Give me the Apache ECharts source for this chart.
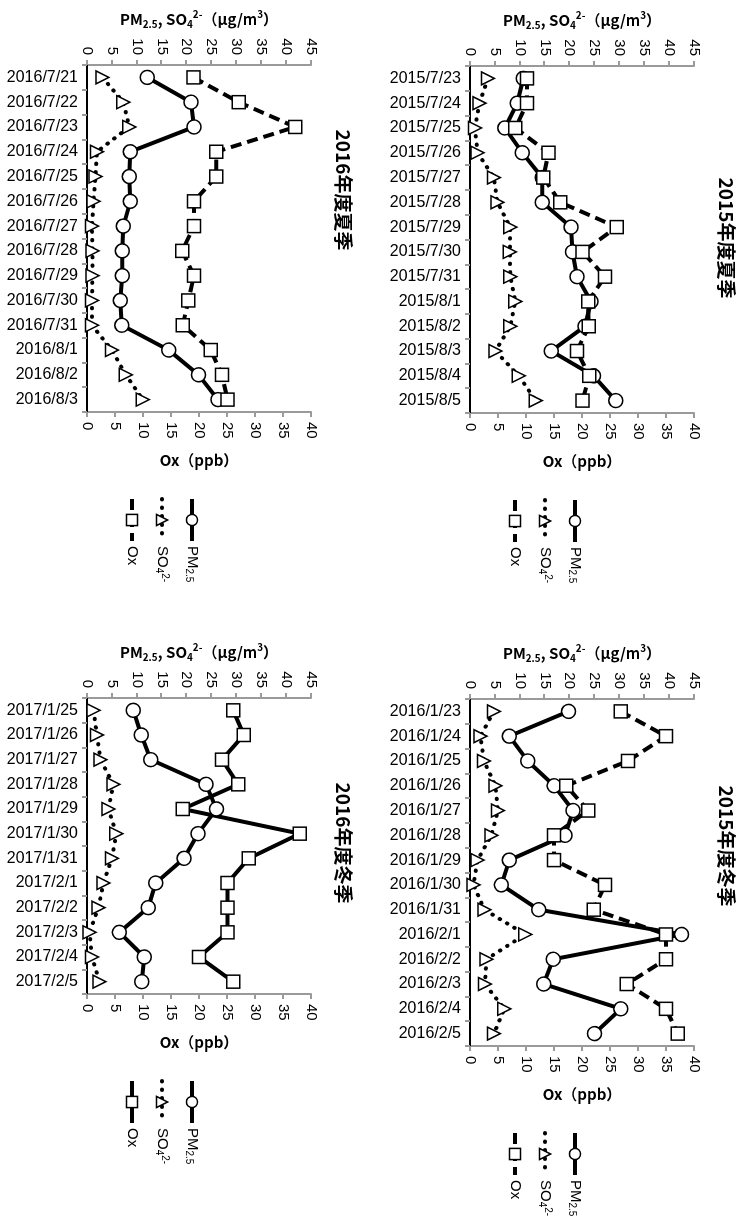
<!DOCTYPE html>
<html><head><meta charset="utf-8">
<script src="https://cdn.jsdelivr.net/npm/echarts@6/dist/echarts.min.js"></script>
<style>
html,body{margin:0;padding:0;background:#fff;overflow:hidden;width:749px;height:1232px;}
#wrap{position:absolute;left:0;top:0;width:1232px;height:749px;transform-origin:0 0;transform:translate(749px,0) rotate(90deg);background:#fff;}
</style></head><body>
<div id="wrap"></div>
<script>
// ---------- data ----------
const datesSummer2015 = ['2015/7/23','2015/7/24','2015/7/25','2015/7/26','2015/7/27','2015/7/28','2015/7/29','2015/7/30','2015/7/31','2015/8/1','2015/8/2','2015/8/3','2015/8/4','2015/8/5'];
const pmSummer2015  = [10.7, 9.5, 7.0, 10.5, 14.5, 14.5, 20.3, 20.6, 21.5, 24.3, 23.1, 16.3, 24.8, 29.3];
const so4Summer2015 = [3.6, 1.9, 1.0, 1.5, 4.8, 5.5, 8.1, 8.0, 8.1, 9.1, 8.1, 5.1, 9.8, 13.2];
const oxSummer2015  = [10.2, 10.2, 8.1, 14.0, 13.1, 16.1, 26.2, 20.1, 24.1, 21.1, 21.2, 19.1, 21.3, 20.1];

const datesSummer2016 = ['2016/7/21','2016/7/22','2016/7/23','2016/7/24','2016/7/25','2016/7/26','2016/7/27','2016/7/28','2016/7/29','2016/7/30','2016/7/31','2016/8/1','2016/8/2','2016/8/3'];
const pmSummer2016  = [12.1, 20.9, 21.5, 8.7, 8.5, 8.7, 7.3, 7.1, 7.1, 6.7, 7.0, 16.4, 22.4, 26.3];
const so4Summer2016 = [3.1, 7.3, 8.5, 2.0, 1.7, 1.3, 1.0, 1.1, 1.1, 1.0, 1.0, 5.0, 7.8, 11.2];
const oxSummer2016  = [19.0, 27.1, 37.2, 23.1, 23.1, 19.1, 19.1, 17.0, 19.1, 18.1, 17.1, 22.1, 24.1, 25.1];

const datesWinter2015 = ['2016/1/23','2016/1/24','2016/1/25','2016/1/26','2016/1/27','2016/1/28','2016/1/29','2016/1/30','2016/1/31','2016/2/1','2016/2/2','2016/2/3','2016/2/4','2016/2/5'];
const pmWinter2015  = [19.8, 7.9, 11.6, 16.9, 20.7, 19.1, 7.9, 6.3, 13.8, 42.5, 16.7, 14.8, 30.3, 25.0];
const so4Winter2015 = [4.8, 2.1, 2.8, 5.1, 5.6, 4.3, 1.5, 0.7, 2.9, 11.1, 3.3, 3.0, 6.9, 4.8];
const oxWinter2015  = [26.9, 35.0, 28.2, 17.2, 21.1, 15.0, 15.0, 24.1, 22.1, 35.0, 35.0, 28.0, 35.0, 37.1];

const datesWinter2016 = ['2017/1/25','2017/1/26','2017/1/27','2017/1/28','2017/1/29','2017/1/30','2017/1/31','2017/2/1','2017/2/2','2017/2/3','2017/2/4','2017/2/5'];
const pmWinter2016  = [9.3, 10.9, 12.8, 23.9, 26.0, 22.3, 19.5, 13.8, 12.3, 6.5, 11.5, 11.0];
const so4Winter2016 = [1.3, 2.0, 2.7, 5.3, 4.3, 5.9, 5.0, 3.3, 2.3, 0.5, 1.0, 2.5];
const oxWinter2016  = [26.1, 28.0, 24.1, 27.0, 17.1, 38.0, 28.9, 25.1, 25.1, 25.1, 20.0, 26.1];

const titles = ['2015年度夏季', '2015年度冬季', '2016年度夏季', '2016年度冬季'];
const seriesNames = ['PM2.5', 'SO4', 'Ox'];

// ---------- layout (chart is drawn landscape, then the page turns it 90deg clockwise) ----------
const FONT = "'Liberation Sans', Arial, sans-serif";
const CJK = "'Noto Sans CJK JP', 'Liberation Sans', sans-serif";
const GRAY = '#9a9a9a';
const ROW_H = 224;

const panels = [
  {title: titles[0], dates: datesSummer2015, pm: pmSummer2015, so4: so4Summer2015, ox: oxSummer2015,
   left: 66, top: 55, width: 347, titleX: 238, titleY: 23, oxSolid: false},
  {title: titles[1], dates: datesWinter2015, pm: pmWinter2015, so4: so4Winter2015, ox: oxWinter2015,
   left: 699, top: 55, width: 347, titleX: 846, titleY: 23, oxSolid: false},
  {title: titles[2], dates: datesSummer2016, pm: pmSummer2016, so4: so4Summer2016, ox: oxSummer2016,
   left: 65, top: 438, width: 347, titleX: 190, titleY: 406, oxSolid: false},
  {title: titles[3], dates: datesWinter2016, pm: pmWinter2016, so4: so4Winter2016, ox: oxWinter2016,
   left: 698, top: 438, width: 296, titleX: 843, titleY: 406, oxSolid: true}
];

const nameRich = {
  b: {fontFamily: CJK, fontWeight: 'bold', fontSize: 15, lineHeight: 20, color: '#000'},
  s: {fontFamily: CJK, fontWeight: 'bold', fontSize: 10, lineHeight: 11, verticalAlign: 'bottom', color: '#000'},
  p: {fontFamily: CJK, fontWeight: 'bold', fontSize: 10, lineHeight: 11, verticalAlign: 'top', color: '#000'}
};
const legendRich = {
  t: {fontFamily: FONT, fontSize: 15, lineHeight: 16, color: '#000'},
  s: {fontFamily: FONT, fontSize: 10, lineHeight: 9, verticalAlign: 'bottom', color: '#000'},
  p: {fontFamily: FONT, fontSize: 10, lineHeight: 9, verticalAlign: 'top', color: '#000'}
};
function legendFmt(name) {
  const base = name.split('#')[0];
  if (base === 'PM2.5') return '{t|PM}{s|2.5}';
  if (base === 'SO4') return '{t|SO}{s|4}{p|2-}';
  return '{t|' + base + '}';
}

const grid = [], xAxis = [], yAxis = [], series = [], legend = [], graphic = [];
panels.forEach((p, i) => {
  grid.push({left: p.left, top: p.top, width: p.width, height: ROW_H, containLabel: false});
  xAxis.push({
    gridIndex: i, type: 'category', data: p.dates, position: 'bottom', boundaryGap: true,
    axisLine: {show: true, lineStyle: {color: GRAY, width: 2}},
    axisTick: {show: true, length: 5, inside: false, lineStyle: {color: GRAY, width: 2}},
    axisLabel: {interval: 0, rotate: 90, margin: 9, fontSize: 16, color: '#000', fontFamily: FONT},
    splitLine: {show: false}
  });
  xAxis.push({
    gridIndex: i, type: 'category', data: p.dates, position: 'top', boundaryGap: true,
    axisLine: {show: true, lineStyle: {color: '#000', width: 2}},
    axisTick: {show: false}, axisLabel: {show: false}, splitLine: {show: false}
  });
  yAxis.push({
    gridIndex: i, type: 'value', position: 'left', min: 0, max: 45, interval: 5,
    axisLine: {show: true, lineStyle: {color: GRAY, width: 2}},
    axisTick: {show: true, length: 5, lineStyle: {color: GRAY, width: 2}},
    axisLabel: {margin: 10, fontSize: 15, color: '#000', fontFamily: FONT},
    splitLine: {show: false},
    name: '{b|PM}{s|2.5}{b|, SO}{s|4}{p|2-}{b|（μg/m}{p|3}{b|）}',
    nameLocation: 'middle', nameGap: 36,
    nameTextStyle: {rich: nameRich}
  });
  yAxis.push({
    gridIndex: i, type: 'value', position: 'right', min: 0, max: 40, interval: 5,
    axisLine: {show: true, lineStyle: {color: GRAY, width: 2}},
    axisTick: {show: true, length: 5, lineStyle: {color: GRAY, width: 2}},
    axisLabel: {margin: 10, fontSize: 15, color: '#000', fontFamily: FONT},
    splitLine: {show: false},
    name: '{b|Ox（ppb）}',
    nameLocation: 'middle', nameGap: 38,
    nameTextStyle: {rich: nameRich}
  });
  const common = {type: 'line', xAxisIndex: 2 * i, yAxisIndex: 2 * i, animation: false, z: 2};
  series.push(Object.assign({}, common, {
    name: 'PM2.5#' + i, data: p.pm, yAxisIndex: 2 * i,
    symbol: 'circle', symbolSize: 14,
    lineStyle: {color: '#000', width: 4},
    itemStyle: {color: '#fff', borderColor: '#000', borderWidth: 1.5}
  }));
  series.push(Object.assign({}, common, {
    name: 'SO4#' + i, data: p.so4, yAxisIndex: 2 * i,
    symbol: 'triangle', symbolSize: 13,
    lineStyle: {color: '#000', width: 4, type: [0.5, 8], cap: 'round'},
    itemStyle: {color: '#fff', borderColor: '#000', borderWidth: 1.5}
  }));
  series.push(Object.assign({}, common, {
    name: 'Ox#' + i, data: p.ox, yAxisIndex: 2 * i + 1,
    symbol: 'rect', symbolSize: 13,
    lineStyle: p.oxSolid ? {color: '#000', width: 4} : {color: '#000', width: 4, type: [11, 6]},
    itemStyle: {color: '#fff', borderColor: '#000', borderWidth: 1.5}
  }));
  const right = p.left + p.width;
  const firstCenter = p.top + 119;
  legend.push({
    orient: 'vertical', left: right + 85, top: firstCenter - 8,
    itemWidth: 42, itemHeight: 14, itemGap: 14, padding: 0,
    selectedMode: false,
    data: seriesNames.map(n => n + '#' + i),
    formatter: legendFmt,
    lineStyle: {width: 4},
    itemStyle: {borderWidth: 1.5},
    textStyle: {fontSize: 15, lineHeight: 16, color: '#000', fontFamily: FONT, rich: legendRich}
  });
  graphic.push({
    type: 'text', x: p.titleX, y: p.titleY, silent: true,
    style: {text: p.title, font: 'bold 19px "Noto Sans CJK JP"', fill: '#000', align: 'center', verticalAlign: 'middle'}
  });
});

const chart = echarts.init(document.getElementById('wrap'), null, {width: 1232, height: 749});
chart.setOption({
  backgroundColor: '#fff',
  animation: false,
  grid, xAxis, yAxis, series, legend, graphic
});
</script>
</body></html>
